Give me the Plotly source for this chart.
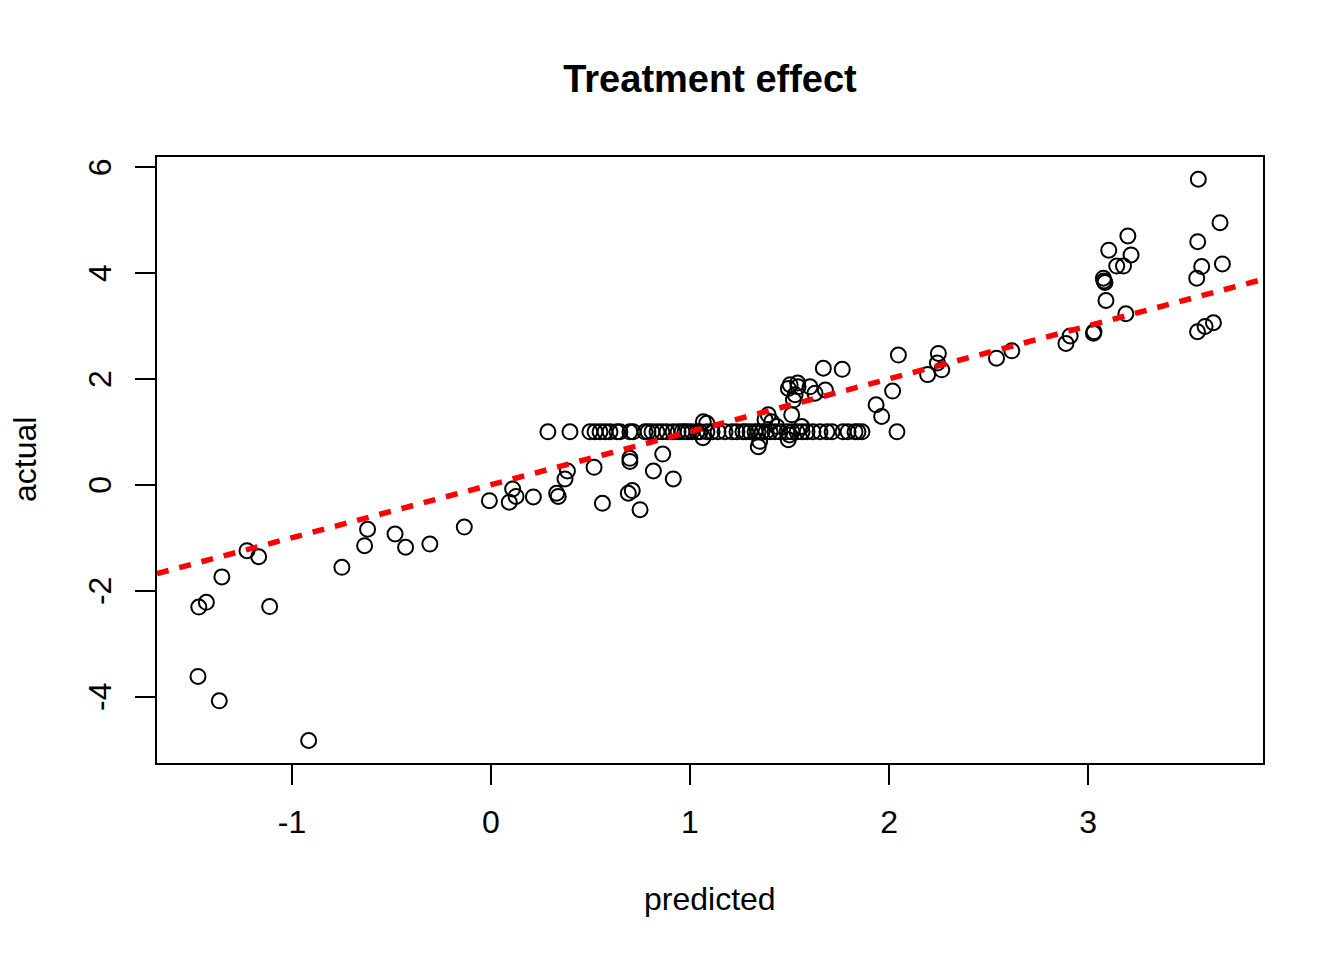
import plotly.graph_objects as go

# scattered points (predicted, actual)
pred_scatter = [-1.468, -1.430, -1.352, -1.226, -1.167, -1.112, -1.472, -1.365, -0.916,
                -0.749, -0.635, -0.620, -0.482, -0.429, -0.307, -0.134,
                -0.008, 0.092, 0.109, 0.126, 0.213, 0.330, 0.338, 0.372, 0.384,
                0.518, 0.560, 0.698, 0.698, 0.690, 0.710, 0.749, 0.816, 0.863, 0.916,
                1.065, 1.067, 1.084, 1.343, 1.350, 1.377, 1.393, 1.410, 1.436, 1.494, 1.500,
                1.511, 1.520, 1.494, 1.503, 1.541, 1.543, 1.528, 1.561, 1.603, 1.628, 1.680,
                1.670, 1.765, 1.935, 1.963, 2.018, 2.040, 2.047,
                2.194, 2.243, 2.248, 2.265, 2.540, 2.617, 2.889, 2.910, 3.027,
                3.030, 3.077, 3.080, 3.085, 3.090, 3.104, 3.144, 3.178, 3.190, 3.200, 3.216,
                3.546, 3.550, 3.551, 3.554, 3.571, 3.588, 3.630, 3.663, 3.675]
act_scatter = [-2.31, -2.22, -1.74, -1.245, -1.36, -2.30, -3.62, -4.08, -4.83,
               -1.56, -1.15, -0.84, -0.93, -1.18, -1.12, -0.80,
               -0.30, -0.33, -0.08, -0.22, -0.23, -0.16, -0.22, 0.11, 0.26,
               0.33, -0.35, 0.50, 0.44, -0.16, -0.11, -0.47, 0.26, 0.58, 0.11,
               0.89, 1.19, 1.16, 0.72, 0.82, 1.23, 1.32, 1.19, 1.10, 0.85, 0.94,
               1.32, 1.60, 1.82, 1.89, 1.92, 1.85, 1.70, 1.10, 1.85, 1.73, 1.79,
               2.20, 2.18, 1.51, 1.29, 1.77, 1.00, 2.45,
               2.08, 2.30, 2.48, 2.17, 2.39, 2.53, 2.67, 2.81, 2.86,
               2.89, 3.90, 3.85, 3.82, 3.48, 4.43, 4.13, 4.13, 3.23, 4.70, 4.34,
               3.90, 2.89, 4.59, 5.77, 4.12, 2.99, 3.06, 4.95, 4.17]

# points lying on actual == 1
pred_row = [0.286, 0.397, 0.497, 0.523, 0.548, 0.573, 0.598, 0.633, 0.648, 0.698, 0.714,
            0.774, 0.789, 0.809, 0.834, 0.859, 0.884, 0.915, 0.940, 0.960, 0.975, 0.990,
            1.010, 1.035, 1.050, 1.085, 1.111, 1.141, 1.176, 1.211, 1.236, 1.266, 1.281,
            1.302, 1.327, 1.342, 1.362, 1.382, 1.402, 1.427, 1.452, 1.487, 1.513, 1.538,
            1.563, 1.588, 1.618, 1.653, 1.688, 1.714, 1.769, 1.794, 1.829, 1.844, 1.864]
act_row = [1.0] * len(pred_row)

predicted = pred_scatter + pred_row
actual = act_scatter + act_row

# reference line
line_intercept = 0.0
line_slope = 1.0

x_range = [-1.678, 3.879]
y_range = [-5.255, 6.19]
x_ticks = [-1, 0, 1, 2, 3]
y_ticks = [-4, -2, 0, 2, 4, 6]

FONT = "Liberation Sans, Arial, Helvetica, sans-serif"

# page body has an 8px margin; size the figure so the plot area lands where the reference has it
W, H = 1336, 952
ML, MR, MT, MB = 149, 81, 149, 197
PW = W - ML - MR
PH = H - MT - MB

fig = go.Figure()
fig.add_trace(go.Scatter(
    x=predicted, y=actual, mode="markers",
    marker=dict(symbol="circle-open", size=15, color="black", line=dict(width=2, color="black")),
    showlegend=False, hoverinfo="x+y"))

line_x = x_range
line_y = [line_intercept + line_slope * v for v in line_x]
fig.add_trace(go.Scatter(
    x=line_x, y=line_y, mode="lines",
    line=dict(color="#ff0000", width=5.5, dash="12px,11px"),
    showlegend=False, hoverinfo="skip"))

fig.update_layout(
    width=W, height=H,
    margin=dict(l=ML, r=MR, t=MT, b=MB),
    paper_bgcolor="white", plot_bgcolor="white",
    font=dict(family=FONT, color="black", size=32),
    title=dict(text="<b>Treatment effect</b>", x=(ML + PW / 2) / W, xanchor="center",
               y=1 - 71 / H, yanchor="middle", yref="container",
               font=dict(family=FONT, size=38, color="black")),
    xaxis=dict(range=x_range, tickvals=x_ticks, ticktext=[str(v) for v in x_ticks],
               showgrid=False, zeroline=False, showline=True, mirror=True,
               linecolor="black", linewidth=2, ticks="outside", ticklen=20,
               tickwidth=2, tickcolor="black", ticklabelstandoff=10,
               tickfont=dict(family=FONT, size=32, color="black")),
    yaxis=dict(range=y_range, tickvals=y_ticks, ticktext=[str(v) for v in y_ticks],
               showgrid=False, zeroline=False, showline=True, mirror=True,
               linecolor="black", linewidth=2, ticks="outside", ticklen=20,
               tickwidth=2, tickcolor="black", tickangle=-90, ticklabelstandoff=11,
               ticklabelshift=5,
               tickfont=dict(family=FONT, size=32, color="black")),
    annotations=[
        dict(text="predicted", xref="paper", yref="paper", x=0.5, y=-(899 - 763) / PH,
             xanchor="center", yanchor="middle", showarrow=False,
             font=dict(family=FONT, size=32, color="black")),
        dict(text="actual", xref="paper", yref="paper", x=(25 - 157) / PW, y=0.5,
             xanchor="center", yanchor="middle", showarrow=False, textangle=-90,
             font=dict(family=FONT, size=32, color="black")),
    ],
)

fig.write_html("out.html")
